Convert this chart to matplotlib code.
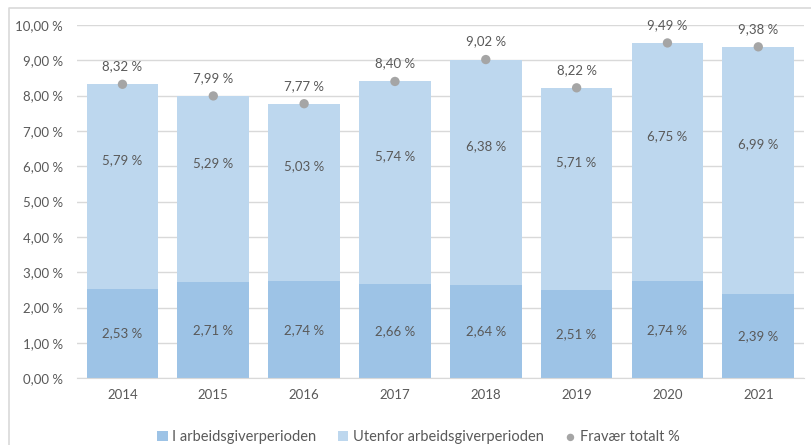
import matplotlib.pyplot as plt
import numpy as np
from matplotlib.lines import Line2D

years = ["2014", "2015", "2016", "2017", "2018", "2019", "2020", "2021"]
i_periode = [2.53, 2.71, 2.74, 2.66, 2.64, 2.51, 2.74, 2.39]
utenfor = [5.79, 5.29, 5.03, 5.74, 6.38, 5.71, 6.75, 6.99]
totalt = [8.32, 7.99, 7.77, 8.40, 9.02, 8.22, 9.49, 9.38]
y_ticks = [0, 1, 2, 3, 4, 5, 6, 7, 8, 9, 10]


def pct(v):
    return f"{v:.2f}".replace(".", ",") + " %"


plt.rcParams["font.family"] = ["Lato", "DejaVu Sans"]
text_col = "#595959"
c_low = "#9DC3E6"
c_high = "#BDD7EE"
c_dot = "#A5A5A5"

fig = plt.figure(figsize=(8.11, 4.45), dpi=100)
ax = fig.add_axes([0.095, 0.150, 0.896, 0.794])

# chart frame: only left and top edges are inside the picture
fig.lines.append(Line2D([0.011, 0.011, 1.0], [0.0, 0.981, 0.981], transform=fig.transFigure,
                        color="#D9D9D9", linewidth=1.2))

x = np.arange(len(years))
w = 0.79
visible_top = np.array(totalt) - np.array(i_periode)
b1 = ax.bar(x, i_periode, w, color=c_low, label="I arbeidsgiverperioden", zorder=2)
b2 = ax.bar(x, visible_top, w, bottom=i_periode, color=c_high,
            label="Utenfor arbeidsgiverperioden", zorder=2)
sc = ax.scatter(x, totalt, s=45, color=c_dot, zorder=3, label="Fravær totalt %",
                edgecolors="none")

for xi, lo, hi, tot in zip(x, i_periode, utenfor, totalt):
    ax.text(xi, lo / 2, pct(lo), ha="center", va="center", fontsize=9.5, color=text_col)
    ax.text(xi, (lo + tot) / 2 + 0.75, pct(hi), ha="center", va="center",
            fontsize=9.5, color=text_col)
    ax.annotate(pct(tot), (xi, tot), xytext=(0, 13), textcoords="offset points",
                ha="center", va="center", fontsize=9.5, color=text_col)

ax.set_xlim(-0.5, len(years) - 0.5)
ax.set_ylim(0, 10)
ax.set_yticks(y_ticks)
ax.set_yticklabels([pct(t) for t in y_ticks])
ax.set_xticks(x)
ax.set_xticklabels(years)
ax.tick_params(axis="both", length=0, labelsize=9.5, labelcolor=text_col)
ax.tick_params(axis="x", pad=8)
ax.tick_params(axis="y", pad=10)
ax.grid(axis="y", color="#D9D9D9", linewidth=1, zorder=0)
for s in ["top", "right", "left"]:
    ax.spines[s].set_visible(False)
ax.spines["bottom"].set_color("#D9D9D9")

leg = ax.legend([b1, b2, sc],
                ["I arbeidsgiverperioden", "Utenfor arbeidsgiverperioden", "Fravær totalt %"],
                loc="upper center", bbox_to_anchor=(0.47, -0.11), ncol=3, frameon=False,
                fontsize=10.5, handlelength=0.7, handleheight=0.7, handletextpad=0.3,
                columnspacing=1.5, markerscale=0.8)
for t in leg.get_texts():
    t.set_color(text_col)

fig.savefig("out.png", dpi=100)
